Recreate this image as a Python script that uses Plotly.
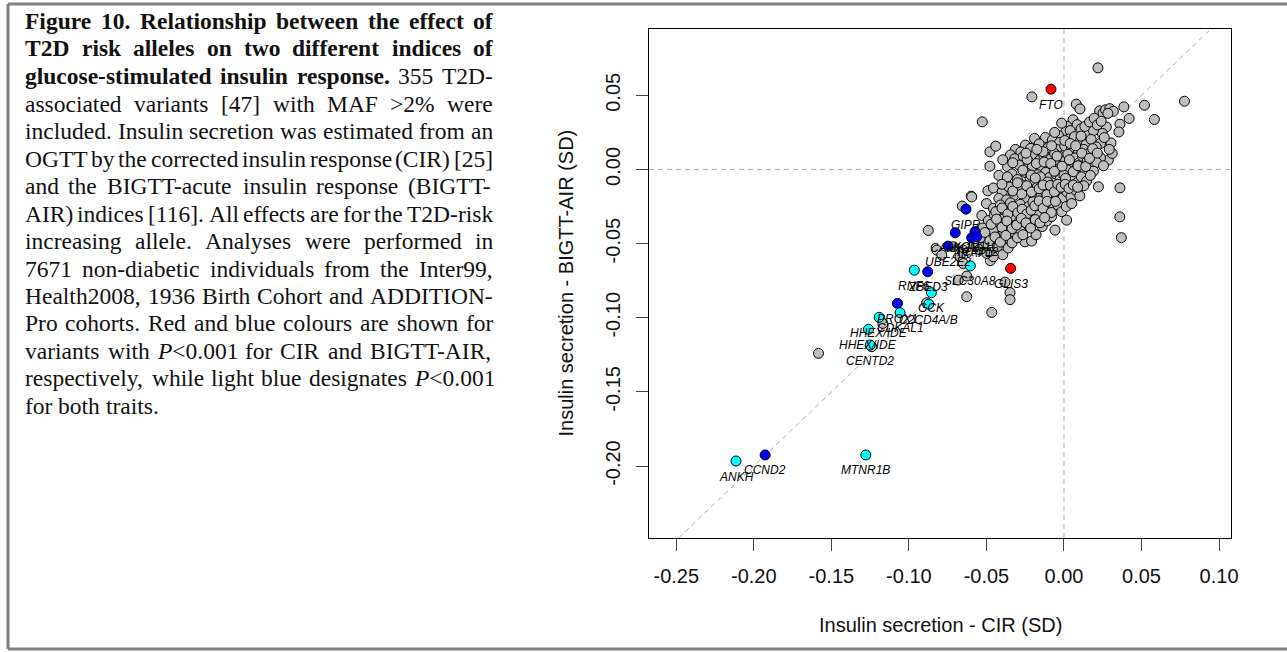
import plotly.graph_objects as go

# ---------------- data ----------------
gray_pts = [
    (0.0079, 0.0440), (0.0103, 0.0408), (0.0219, 0.0685), (-0.0207, 0.0489), (-0.0527, 0.0321),
    (0.0777, 0.0460), (0.0519, 0.0433), (0.0583, 0.0337), (0.0420, 0.0344), (0.0386, 0.0422),
    (0.0230, 0.0395), (0.0252, 0.0380), (0.0268, 0.0402), (0.0295, 0.0410), (0.0318, 0.0392),
    (0.0283, 0.0378), (0.0361, 0.0305), (0.0354, 0.0253), (0.0273, 0.0287), (0.0247, 0.0243),
    (0.0235, 0.0175), (0.0303, 0.0179), (0.0286, 0.0063), (0.0311, 0.0108), (0.0292, 0.0135),
    (0.0260, 0.0215), (0.0058, 0.0335), (0.0021, 0.0290), (0.0085, 0.0302), (0.0012, 0.0255),
    (-0.0015, 0.0312), (0.0040, 0.0262), (0.0110, 0.0274), (0.0152, 0.0246), (0.0190, 0.0262),
    (-0.0035, 0.0228),
    (-0.0478, 0.0119), (-0.0440, 0.0157), (-0.0313, 0.0135), (-0.0249, 0.0164), (-0.0190, 0.0209),
    (-0.0120, 0.0215), (-0.0075, 0.0198), (-0.0028, 0.0182), (0.0030, 0.0205), (0.0068, 0.0221),
    (0.0105, 0.0190), (0.0142, 0.0168), (0.0175, 0.0203), (0.0208, 0.0152), (-0.0160, 0.0172),
    (-0.0102, 0.0148), (-0.0048, 0.0135), (0.0005, 0.0158), (0.0048, 0.0143), (0.0092, 0.0125),
    (0.0128, 0.0135), (0.0162, 0.0110), (0.0198, 0.0092), (0.0235, 0.0080), (-0.0215, 0.0142),
    (-0.0278, 0.0118), (-0.0345, 0.0098),
    (-0.0478, 0.0022), (-0.0364, 0.0018), (-0.0395, 0.0065), (-0.0318, 0.0072), (-0.0262, 0.0088),
    (-0.0230, 0.0045), (-0.0185, 0.0100), (-0.0158, 0.0062), (-0.0130, 0.0095), (-0.0110, 0.0032),
    (-0.0082, 0.0075), (-0.0060, 0.0108), (-0.0040, 0.0048), (-0.0018, 0.0085), (0.0008, 0.0058),
    (0.0025, 0.0102), (0.0045, 0.0030), (0.0070, 0.0078), (0.0098, 0.0045), (0.0120, 0.0088),
    (0.0150, 0.0055), (0.0178, 0.0030), (0.0210, 0.0048), (0.0255, 0.0025), (-0.0290, 0.0030),
    (-0.0205, 0.0015), (-0.0145, 0.0008), (-0.0088, 0.0012), (-0.0030, 0.0005), (0.0020, -0.0002),
    (0.0082, 0.0010), (0.0135, -0.0005), (0.0190, -0.0012),
    (-0.0491, -0.0144), (-0.0598, -0.0180), (0.0222, -0.0117), (0.0361, -0.0124), (-0.0420, -0.0040),
    (-0.0375, -0.0085), (-0.0335, -0.0030), (-0.0300, -0.0068), (-0.0268, -0.0105), (-0.0245, -0.0022),
    (-0.0218, -0.0060), (-0.0190, -0.0095), (-0.0170, -0.0035), (-0.0140, -0.0072), (-0.0118, -0.0020),
    (-0.0095, -0.0055), (-0.0070, -0.0090), (-0.0052, -0.0030), (-0.0025, -0.0065), (0.0000, -0.0038),
    (0.0030, -0.0078), (0.0055, -0.0042), (0.0085, -0.0088), (0.0112, -0.0050), (0.0145, -0.0080),
    (0.0170, -0.0040), (0.0128, -0.0110),
    (-0.0455, -0.0125), (-0.0398, -0.0150), (-0.0355, -0.0118), (-0.0325, -0.0175), (-0.0285, -0.0140),
    (-0.0250, -0.0195), (-0.0225, -0.0130), (-0.0198, -0.0168), (-0.0172, -0.0120), (-0.0150, -0.0185),
    (-0.0125, -0.0145), (-0.0100, -0.0198), (-0.0078, -0.0128), (-0.0055, -0.0170), (-0.0030, -0.0138),
    (-0.0008, -0.0192), (0.0018, -0.0150), (0.0045, -0.0185), (0.0075, -0.0140), (0.0102, -0.0178),
    (-0.0420, -0.0195), (-0.0370, -0.0205),
    (-0.0500, -0.0230), (-0.0455, -0.0262), (-0.0410, -0.0240), (-0.0380, -0.0285), (-0.0345, -0.0225),
    (-0.0310, -0.0268), (-0.0282, -0.0235), (-0.0255, -0.0290), (-0.0228, -0.0250), (-0.0200, -0.0218),
    (-0.0175, -0.0275), (-0.0148, -0.0240), (-0.0122, -0.0292), (-0.0095, -0.0228), (-0.0068, -0.0265),
    (-0.0040, -0.0240), (-0.0015, -0.0285), (0.0015, -0.0250), (0.0050, -0.0230),
    (-0.0530, -0.0310), (-0.0488, -0.0345), (-0.0450, -0.0305), (-0.0418, -0.0365), (-0.0385, -0.0330),
    (-0.0352, -0.0378), (-0.0320, -0.0315), (-0.0290, -0.0355), (-0.0262, -0.0395), (-0.0232, -0.0325),
    (-0.0200, -0.0362), (-0.0170, -0.0310), (-0.0140, -0.0385), (-0.0112, -0.0348), (0.0017, -0.0342),
    (-0.0058, -0.0409), (-0.0080, -0.0318),
    (-0.0595, -0.0185), (-0.0656, -0.0247), (-0.0875, -0.0411), (-0.0560, -0.0420), (-0.0525, -0.0395),
    (-0.0490, -0.0440), (-0.0455, -0.0410), (-0.0420, -0.0455), (-0.0388, -0.0425), (-0.0350, -0.0470),
    (-0.0315, -0.0432), (-0.0252, -0.0488), (-0.0209, -0.0483), (-0.0280, -0.0415), (-0.0180, -0.0440),
    (-0.0820, -0.0544), (-0.0788, -0.0577), (-0.0714, -0.0521), (-0.0649, -0.0544), (-0.0670, -0.0589),
    (-0.0580, -0.0505), (-0.0545, -0.0540), (-0.0505, -0.0495), (-0.0470, -0.0560), (-0.0430, -0.0520),
    (-0.0395, -0.0575), (-0.0360, -0.0530), (-0.0475, -0.0615), (-0.0456, -0.0589), (-0.0498, -0.0566),
    (-0.0649, -0.0634), (-0.0627, -0.0719), (-0.0682, -0.0746), (-0.0627, -0.0858), (-0.0466, -0.0964),
    (-0.0380, -0.0760), (-0.0348, -0.0830), (-0.0348, -0.0878), (-0.0885, -0.0899), (-0.1168, -0.1038),
    (-0.1583, -0.1240), (-0.1240, -0.1195), (0.0360, -0.0320), (0.0370, -0.0460),
    (-0.0265, -0.0005), (-0.0238, 0.0068), (-0.0212, -0.0038), (-0.0178, 0.0040), (-0.0152, -0.0050),
    (-0.0128, 0.0050), (-0.0105, -0.0085), (-0.0085, 0.0040), (-0.0062, -0.0012), (-0.0045, 0.0090),
    (-0.0012, 0.0022), (0.0010, -0.0060), (0.0035, 0.0065), (0.0060, -0.0015), (0.0090, 0.0025),
    (0.0115, 0.0110), (0.0140, 0.0020), (0.0165, 0.0075), (0.0185, 0.0140), (0.0215, 0.0110),
    (-0.0330, -0.0145), (-0.0300, -0.0090), (-0.0272, -0.0165), (-0.0240, -0.0110), (-0.0210, -0.0152),
    (-0.0185, -0.0058), (-0.0160, -0.0130), (-0.0135, -0.0105), (-0.0110, -0.0170), (-0.0088, -0.0108),
    (-0.0062, -0.0150), (-0.0040, -0.0100), (-0.0018, -0.0120), (0.0008, -0.0100), (0.0032, -0.0128),
    (0.0060, -0.0105), (0.0088, -0.0120),
    (-0.0440, -0.0285), (-0.0400, -0.0260), (-0.0362, -0.0300), (-0.0330, -0.0250), (-0.0298, -0.0292),
    (-0.0270, -0.0268), (-0.0240, -0.0300), (-0.0212, -0.0275), (-0.0188, -0.0245), (-0.0160, -0.0212),
    (-0.0135, -0.0262), (-0.0108, -0.0215), (-0.0082, -0.0290), (-0.0055, -0.0215),
    (-0.0470, -0.0370), (-0.0435, -0.0335), (-0.0400, -0.0390), (-0.0368, -0.0348), (-0.0335, -0.0400),
    (-0.0305, -0.0375), (-0.0275, -0.0330), (-0.0245, -0.0360), (-0.0215, -0.0395), (-0.0185, -0.0338),
    (-0.0155, -0.0360), (-0.0125, -0.0325),
    (-0.0540, -0.0460), (-0.0510, -0.0425), (-0.0478, -0.0480), (-0.0445, -0.0455), (-0.0410, -0.0490),
    (-0.0375, -0.0445), (-0.0335, -0.0495), (-0.0300, -0.0460), (-0.0265, -0.0440),
    (0.0005, 0.0195), (0.0040, 0.0175), (0.0075, 0.0160), (0.0110, 0.0225), (0.0135, 0.0290),
    (0.0165, 0.0320), (0.0195, 0.0345), (0.0215, 0.0300), (0.0240, 0.0325), (-0.0060, 0.0250),
    (-0.0080, 0.0160), (-0.0135, 0.0120), (-0.0175, 0.0135), (-0.0245, 0.0110), (-0.0330, 0.0045),
    (-0.0365, -0.0050), (-0.0400, -0.0100),
]
gray_x = [p[0] for p in gray_pts]
gray_y = [p[1] for p in gray_pts]

red_names = ["FTO", "GLIS3"]
red_x = [-0.0084, -0.0344]
red_y = [0.0541, -0.0667]

blue_names = ["CCND2", "GIPR", "CAMK1D", "KCNJ11", "ARAP1", "TCF7L2", "UBE2E2", "ZBED3", "PROX1"]
blue_x = [-0.1927, -0.0632, -0.0701, -0.0574, -0.0595, -0.0563, -0.0748, -0.0879, -0.1074]
blue_y = [-0.1925, -0.0268, -0.0427, -0.0420, -0.0461, -0.0454, -0.0517, -0.0690, -0.0903]

cyan_names = ["ANKH", "MTNR1B", "CENTD2", "HHEX/IDE", "HHEX/IDE", "CDKAL1", "C2CD4A/B", "GCK", "RNF6", "SLC30A8"]
cyan_x = [-0.2115, -0.1278, -0.1250, -0.1261, -0.1192, -0.1057, -0.0872, -0.0855, -0.0965, -0.0604]
cyan_y = [-0.1966, -0.1925, -0.1184, -0.1078, -0.0997, -0.0966, -0.0908, -0.0831, -0.0679, -0.0650]

x_ticks = [-0.25, -0.20, -0.15, -0.10, -0.05, 0.00, 0.05, 0.10]
x_tick_labels = ["-0.25", "-0.20", "-0.15", "-0.10", "-0.05", "0.00", "0.05", "0.10"]
y_ticks = [-0.20, -0.15, -0.10, -0.05, 0.00, 0.05]
y_tick_labels = ["-0.20", "-0.15", "-0.10", "-0.05", "0.00", "0.05"]
x_range = [-0.2676, 0.1077]
y_range = [-0.2485, 0.0947]

x_title = "Insulin secretion - CIR (SD)"
y_title = "Insulin secretion - BIGTT-AIR (SD)"

# caption: (bold part, regular part) per line
caption_lines = [
    ("Figure 10. Relationship between the effect of", ""),
    ("T2D risk alleles on two different indices of", ""),
    ("glucose-stimulated insulin response.", "355 T2D-"),
    ("", "associated variants [47] with MAF >2% were"),
    ("", "included. Insulin secretion was estimated from an"),
    ("", "OGTT by the corrected insulin response (CIR) [25]"),
    ("", "and the BIGTT-acute insulin response (BIGTT-"),
    ("", "AIR) indices [116]. All effects are for the T2D-risk"),
    ("", "increasing allele. Analyses were performed in"),
    ("", "7671 non-diabetic individuals from the Inter99,"),
    ("", "Health2008, 1936 Birth Cohort and ADDITION-"),
    ("", "Pro cohorts. Red and blue colours are shown for"),
    ("", "variants with P<0.001 for CIR and BIGTT-AIR,"),
    ("", "respectively, while light blue designates P<0.001"),
    ("", "for both traits."),
]

# ---------------- layout geometry (pixels) ----------------
W, H = 1287, 652
L, R, T, B = 649, 1231, 29, 538
PW, PH = R - L, B - T


def px2x(px):
    return (px - L) / PW


def py2y(py):
    return (B - py) / PH


# Times (Liberation Serif metric-compatible) advance widths /1000
TR = {' ': 250, '.': 250, ',': 250, '-': 333, '(': 333, ')': 333, '[': 333, ']': 333, '>': 564, '<': 564,
      '%': 833, '/': 278, ':': 278, 'A': 722, 'B': 667, 'C': 667, 'D': 722, 'E': 611, 'F': 556, 'G': 722,
      'H': 722, 'I': 333, 'J': 389, 'K': 722, 'L': 611, 'M': 889, 'N': 722, 'O': 722, 'P': 556, 'Q': 722,
      'R': 667, 'S': 556, 'T': 611, 'U': 722, 'V': 722, 'W': 944, 'X': 722, 'Y': 722, 'Z': 611,
      'a': 444, 'b': 500, 'c': 444, 'd': 500, 'e': 444, 'f': 333, 'g': 500, 'h': 500, 'i': 278, 'j': 278,
      'k': 500, 'l': 278, 'm': 778, 'n': 500, 'o': 500, 'p': 500, 'q': 500, 'r': 333, 's': 389, 't': 278,
      'u': 500, 'v': 500, 'w': 722, 'x': 500, 'y': 500, 'z': 444}
TB = {' ': 250, '.': 250, ',': 250, '-': 333, '(': 333, ')': 333, 'A': 722, 'B': 667, 'C': 722, 'D': 722,
      'E': 667, 'F': 611, 'G': 778, 'H': 778, 'I': 389, 'J': 500, 'K': 778, 'L': 667, 'M': 944, 'N': 722,
      'O': 778, 'P': 611, 'Q': 778, 'R': 722, 'S': 556, 'T': 667, 'U': 722, 'V': 722, 'W': 1000, 'X': 722,
      'Y': 722, 'Z': 667, 'a': 500, 'b': 556, 'c': 444, 'd': 556, 'e': 444, 'f': 333, 'g': 500, 'h': 556,
      'i': 278, 'j': 333, 'k': 556, 'l': 278, 'm': 833, 'n': 556, 'o': 500, 'p': 556, 'q': 556, 'r': 444,
      's': 389, 't': 333, 'u': 556, 'v': 500, 'w': 722, 'x': 500, 'y': 500, 'z': 444}
for d in '0123456789':
    TR[d] = 500
    TB[d] = 500

CAP_FS = 23.5
CAP_LEFT, CAP_RIGHT = 24, 492
CAP_Y0, CAP_DY = 21, 27.5


def word_width(w, bold):
    tab = TB if bold else TR
    return sum(tab.get(c, 500) for c in w) * CAP_FS / 1000.0


def word_html(w, bold):
    s = w.replace('&', '&amp;').replace('<', '&lt;').replace('>', '&gt;')
    if w.startswith('P<'):
        s = '<i>P</i>' + s[1:]
    return '<b>' + s + '</b>' if bold else s


annotations = []
n_lines = len(caption_lines)
for i, (bpart, rpart) in enumerate(caption_lines):
    words = [(w, True) for w in bpart.split()] + [(w, False) for w in rpart.split()]
    widths = [word_width(w, b) for w, b in words]
    if i < n_lines - 1 and len(words) > 1:
        gap = (CAP_RIGHT - CAP_LEFT - sum(widths)) / (len(words) - 1)
    else:
        gap = 250 * CAP_FS / 1000.0
    xpos = CAP_LEFT
    ypx = CAP_Y0 + i * CAP_DY
    for (w, b), wd in zip(words, widths):
        annotations.append(dict(
            x=px2x(xpos - 1), y=py2y(ypx), xref='paper', yref='paper',
            text=word_html(w, b), showarrow=False, xanchor='left', yanchor='middle',
            font=dict(family='Liberation Serif, Times New Roman, serif', size=CAP_FS, color='#111111')))
        xpos += wd + gap

# point labels
label_font = dict(family='Liberation Sans, Arial, sans-serif', size=12, color='#000000')
for names, xs, ys in [(red_names, red_x, red_y), (blue_names, blue_x, blue_y), (cyan_names, cyan_x, cyan_y)]:
    for n, xv, yv in zip(names, xs, ys):
        annotations.append(dict(x=xv, y=yv, xref='x', yref='y', text='<i>' + n + '</i>', showarrow=False,
                                xanchor='center', yanchor='middle', yshift=-15.5, font=label_font))

axis_font = dict(family='Liberation Sans, Arial, sans-serif', size=20, color='#111111')
annotations.append(dict(x=0.5, y=py2y(625), xref='paper', yref='paper', text=x_title, showarrow=False,
                        xanchor='center', yanchor='middle', font=axis_font))
annotations.append(dict(x=px2x(565), y=0.5, xref='paper', yref='paper', text=y_title, showarrow=False,
                        xanchor='center', yanchor='middle', textangle=-90, font=axis_font))

fig = go.Figure()


def add_points(xs, ys, color):
    fig.add_trace(go.Scatter(x=xs, y=ys, mode='markers', showlegend=False, hoverinfo='skip',
                             marker=dict(size=10, color=color, line=dict(color='#000000', width=1))))


add_points(gray_x, gray_y, '#BEBEBE')
add_points(red_x, red_y, '#FF0000')
add_points(blue_x, blue_y, '#0000FF')
add_points(cyan_x, cyan_y, '#00FFFF')

dash_line = dict(color='#AAAAAA', width=1, dash='5px,4px')
lo = max(x_range[0], y_range[0])
hi = min(x_range[1], y_range[1])
shapes = [
    dict(type='line', xref='x', yref='y', x0=lo, y0=lo, x1=hi, y1=hi, line=dash_line, layer='below'),
    dict(type='line', xref='x', yref='y', x0=x_range[0], y0=0, x1=x_range[1], y1=0, line=dash_line, layer='below'),
    dict(type='line', xref='x', yref='y', x0=0, y0=y_range[0], x1=0, y1=y_range[1], line=dash_line, layer='below'),
    # outer figure frame
    dict(type='line', xref='paper', yref='paper', x0=px2x(8), y0=py2y(4), x1=px2x(W + 20), y1=py2y(4),
         line=dict(color='#7F7F7F', width=3)),
    dict(type='line', xref='paper', yref='paper', x0=px2x(8), y0=py2y(4), x1=px2x(8), y1=py2y(649),
         line=dict(color='#7F7F7F', width=3)),
    dict(type='line', xref='paper', yref='paper', x0=px2x(8), y0=py2y(649), x1=px2x(W + 20), y1=py2y(649),
         line=dict(color='#7F7F7F', width=3)),
]

fig.update_layout(
    width=W, height=H,
    margin=dict(l=L, r=W - R, t=T, b=H - B, pad=0),
    paper_bgcolor='white', plot_bgcolor='white',
    showlegend=False,
    annotations=annotations,
    shapes=shapes,
    xaxis=dict(range=x_range, tickvals=x_ticks, ticktext=x_tick_labels, showgrid=False, zeroline=False,
               showline=True, mirror=True, linecolor='#000000', linewidth=1,
               ticks='outside', ticklen=12, tickwidth=1, tickcolor='#444444',
               tickfont=axis_font, ticklabelstandoff=8),
    yaxis=dict(range=y_range, tickvals=y_ticks, ticktext=y_tick_labels, showgrid=False, zeroline=False,
               showline=True, mirror=True, linecolor='#000000', linewidth=1,
               ticks='outside', ticklen=12, tickwidth=1, tickcolor='#444444',
               tickfont=axis_font, tickangle=-90, ticklabelstandoff=8),
)

fig.write_html('out.html')
